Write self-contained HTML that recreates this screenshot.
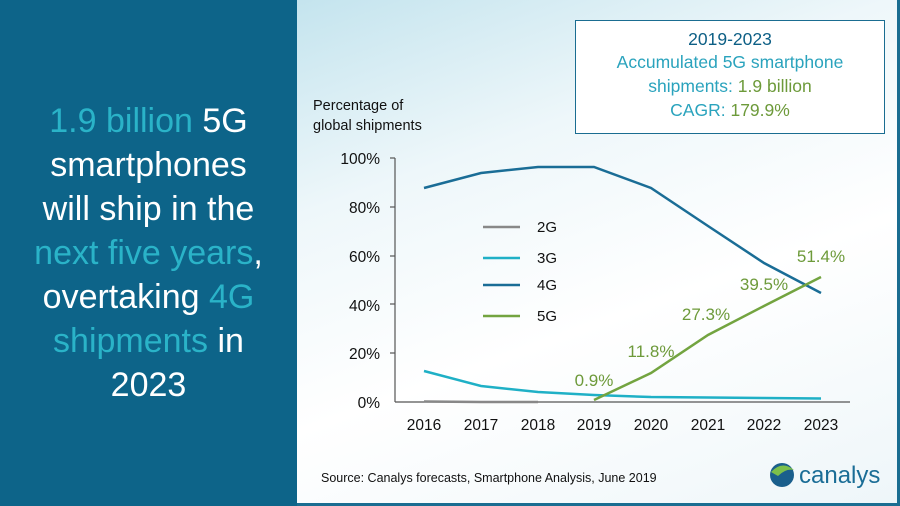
<!DOCTYPE html>
<html><head><meta charset="utf-8"><style>
body{margin:0;width:900px;height:506px;overflow:hidden;font-family:"Liberation Sans",sans-serif}
.l{position:absolute;left:0;top:0;width:297px;height:506px;background:#0d6489}
.r{position:absolute;left:297px;top:0;width:600px;height:503px;background:linear-gradient(160deg,#c4e4ee 0%,#eef7fa 30%,#ffffff 60%,#eef6f9 100%);border-right:3px solid #1a6d91;border-bottom:3px solid #1a6d91}
.h{position:absolute;left:0;width:297px;top:99px;text-align:center;color:#fff;font-size:34px;line-height:44px}
.t{color:#2ab3c8}
</style></head><body>
<div class="l"></div><div class="r"></div>
<div class="h"><span class="t">1.9 billion</span> 5G<br>smartphones<br>will ship in the<br><span class="t">next five years</span>,<br>overtaking <span class="t">4G</span><br><span class="t">shipments</span> in<br>2023</div>
<svg width="900" height="506" style="position:absolute;left:0;top:0" font-family="Liberation Sans,sans-serif">
<rect x="575.5" y="20.5" width="309" height="113" fill="#fff" stroke="#1a6d91"/>
<g text-anchor="middle" font-size="17.5"><text x="730" y="45" fill="#0d5f85">2019-2023</text>
<text x="730" y="68" fill="#2aa3bd">Accumulated 5G smartphone</text>
<text x="730" y="92" fill="#2aa3bd">shipments: <tspan fill="#6d9a3a">1.9 billion</tspan></text>
<text x="730" y="116" fill="#2aa3bd">CAGR: <tspan fill="#6d9a3a">179.9%</tspan></text></g>
<text x="313" y="110" font-size="14.5" fill="#111">Percentage of</text>
<text x="313" y="130" font-size="14.5" fill="#111">global shipments</text>
<g font-size="15.5" fill="#111" text-anchor="end"><text x="380" y="164">100%</text><text x="380" y="213">80%</text><text x="380" y="262">60%</text><text x="380" y="311">40%</text><text x="380" y="359">20%</text><text x="380" y="408">0%</text></g>
<g stroke="#555" stroke-width="1.2"><line x1="395" y1="158" x2="395" y2="402"/><line x1="395" y1="402" x2="850" y2="402"/>
<line x1="390" y1="158" x2="395" y2="158"/><line x1="390" y1="207" x2="395" y2="207"/><line x1="390" y1="256" x2="395" y2="256"/><line x1="390" y1="304" x2="395" y2="304"/><line x1="390" y1="353" x2="395" y2="353"/></g>
<g font-size="15.5" fill="#111" text-anchor="middle"><text x="424" y="430">2016</text><text x="481" y="430">2017</text><text x="538" y="430">2018</text><text x="594" y="430">2019</text><text x="651" y="430">2020</text><text x="708" y="430">2021</text><text x="764" y="430">2022</text><text x="821" y="430">2023</text></g>
<g fill="none" stroke-width="2.5">
<polyline stroke="#888" points="424,401.5 481,402 538,402"/>
<polyline stroke="#1fb0c6" points="424,371 481,386 538,392 594,395 651,397 708,397.5 764,398 821,398.5"/>
<polyline stroke="#1a6d96" points="424,188 481,173 538,167 594,167 651,188 708,226 764,263 821,293"/>
<polyline stroke="#73a440" points="594,400 651,373 708,335 764,306 821,277"/>
<line x1="483" y1="227" x2="520" y2="227" stroke="#888"/>
<line x1="483" y1="258" x2="520" y2="258" stroke="#1fb0c6"/>
<line x1="483" y1="285" x2="520" y2="285" stroke="#1a6d96"/>
<line x1="483" y1="316" x2="520" y2="316" stroke="#73a440"/></g>
<g font-size="15" fill="#111"><text x="537" y="232">2G</text><text x="537" y="263">3G</text><text x="537" y="290">4G</text><text x="537" y="321">5G</text></g>
<g font-size="17" fill="#6d9a3a" text-anchor="middle"><text x="594" y="386">0.9%</text><text x="651" y="357">11.8%</text><text x="706" y="320">27.3%</text><text x="764" y="290">39.5%</text><text x="821" y="262">51.4%</text></g>
<text x="321" y="482" font-size="12.5" fill="#111">Source: Canalys forecasts, Smartphone Analysis, June 2019</text>
<circle cx="782" cy="475" r="12" fill="#1a5f8c"/><path d="M771,472 Q782,460 794,470 Q786,468 778,476Z" fill="#7cc04b"/>
<text x="799" y="483" font-size="24" fill="#1a6d96">canalys</text>
</svg>
</body></html>
